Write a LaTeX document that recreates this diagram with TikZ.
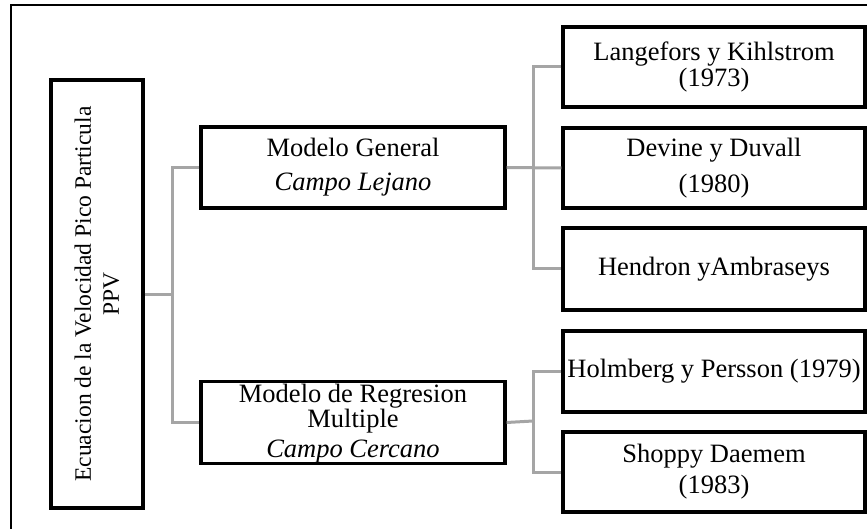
\documentclass[tikz,border=0pt]{standalone}
\usepackage{fontspec}
\setmainfont{Liberation Serif}
\definecolor{linkgray}{RGB}{165,165,165}
\begin{document}
\begin{tikzpicture}[x=1pt,y=-1pt,
  box/.style={draw=black, line width=3.2pt, fill=white, inner sep=0pt,
    align=center, minimum width=302pt},
  txt/.style={font=\fontsize{26.5}{#1}\selectfont},
  link/.style={draw=linkgray, line width=3pt}]
\useasboundingbox (0,0) rectangle (867,529);

% outer frame
\draw[line width=2pt] (11,529) -- (11,5) -- (867,5);

% root
\node[box, rotate=90, minimum width=428pt, minimum height=92pt,
  font=\fontsize{23.5}{28}\selectfont] (root) at (97,294)
  {Ecuacion de la Velocidad Pico Particula\\PPV};

% models
\node[box, minimum width=304pt, minimum height=81pt, txt=34] (mg) at (353,167.5)
  {Modelo General\\\textit{Campo Lejano}};
\node[box, minimum width=304pt, minimum height=82pt, txt=21,
  text depth=3pt] (mr) at (353,422.5)
  {Modelo de Regresion\\Multiple\\[6pt]\textit{Campo Cercano}};

% references
\node[box, minimum height=80pt, txt=23] (lang) at (714,67)
  {Langefors y Kihlstrom\\(1973)};
\node[box, minimum height=80pt, txt=36] (dev) at (714,168)
  {Devine y Duvall\\(1980)};
\node[box, minimum height=82pt, txt=30] (hen) at (714,269)
  {Hendron yAmbraseys};
\node[box, minimum height=81pt, txt=30] (hol) at (714,371.5)
  {Holmberg y Persson (1979)};
\node[box, minimum height=80pt, txt=31] (sho) at (714,472)
  {Shoppy Daemem\\(1983)};

% junctions
\coordinate (jl) at (172,292);
\coordinate (ja) at (533,168);
\coordinate (jb) at (533,421);

% connectors
\draw[link] (root.south) -- (root.south -| jl);
\draw[link] (mg.west) -| (jl) |- (mr.west);
\draw[link] (mg.east) -- (dev.west);
\draw[link] (lang.west) -| (ja) |- (hen.west);
\draw[link] (mr.east) -- (jb);
\draw[link] (hol.west) -| (jb) |- (sho.west);
\end{tikzpicture}
\end{document}
